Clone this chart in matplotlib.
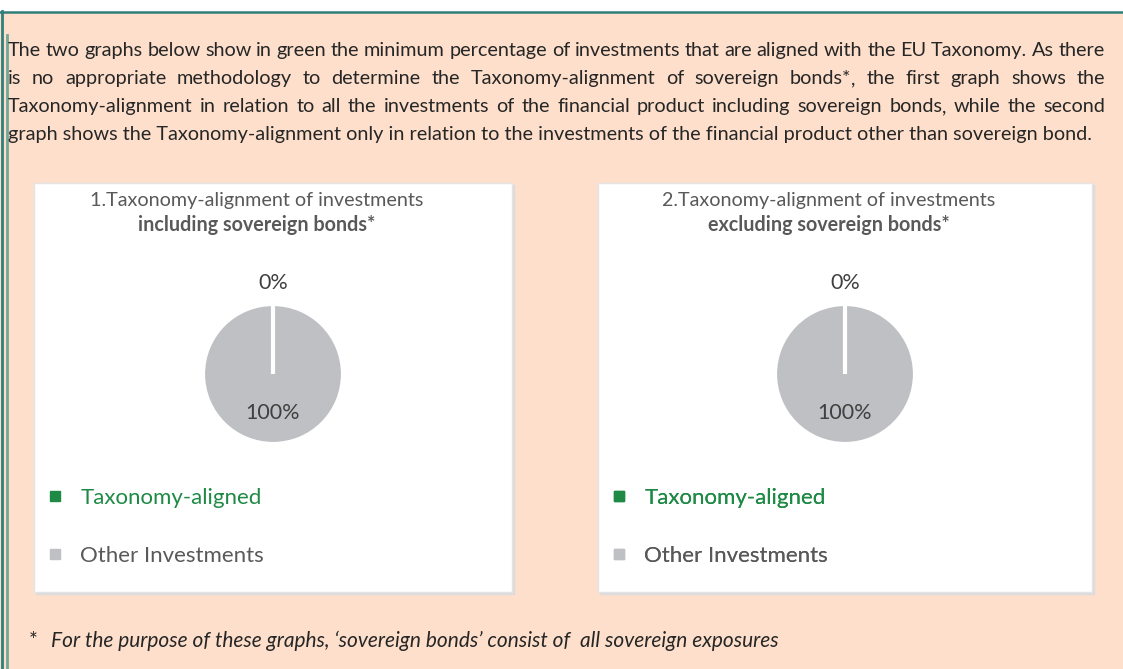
import numpy as np
import matplotlib.pyplot as plt
from matplotlib.patches import Rectangle
from matplotlib.lines import Line2D

plt.rcParams['font.family'] = 'Lato'

# chart data
categories = ['Taxonomy-aligned', 'Other Investments']
incl_values = [0, 100]
excl_values = [0, 100]
panel_titles = ['1.Taxonomy-alignment of investments', '2.Taxonomy-alignment of investments']
panel_subtitles = ['including sovereign bonds*', 'excluding sovereign bonds*']

intro_lines = [
    'The two graphs below show in green the minimum percentage of investments that are aligned with the EU Taxonomy. As there',
    'is no appropriate methodology to determine the Taxonomy-alignment of sovereign bonds*, the first graph shows the',
    'Taxonomy-alignment in relation to all the investments of the financial product including sovereign bonds, while the second',
    'graph shows the Taxonomy-alignment only in relation to the investments of the financial product other than sovereign bond.',
]
footnote = ('For the purpose of these graphs, \u2018sovereign bonds\u2019 consist of  '
            'all sovereign exposures')

GREEN = '#1e8a45'
GREY = '#bfc0c4'
PEACH = '#fddfcb'
TEAL = '#2f7f7c'
TEXT = '#262626'

W, H = 1123, 669
fig = plt.figure(figsize=(W / 100, H / 100), dpi=100)
canvas = fig.add_axes([0, 0, 1, 1])
canvas.set_xlim(0, W)
canvas.set_ylim(H, 0)
canvas.axis('off')

# page background and frame lines
canvas.add_patch(Rectangle((0, 0), W, H, color='white', zorder=0))
canvas.add_patch(Rectangle((0, 11.5), W, H, color=PEACH, zorder=0))
canvas.plot([0, W], [11.5, 11.5], color=TEAL, lw=1.8, zorder=1)
canvas.plot([1.5, 1.5], [11, H], color=TEAL, lw=2, zorder=1)
canvas.plot([6.5, 6.5], [35, H], color='#6fa79b', lw=2, zorder=1)

renderer = fig.canvas.get_renderer()


def text_width(s, size, **kw):
    t = canvas.text(0, 0, s, fontsize=size, **kw)
    w = t.get_window_extent(renderer).width
    t.remove()
    return w


def draw_word(x, y, word, size):
    # a trailing comma goes in its own text, otherwise the baseline of
    # words like "bonds," ends up a few pixels low
    if word.endswith(','):
        core = word[:-1]
        canvas.text(x, y, core, fontsize=size, color=TEXT, va='baseline')
        canvas.text(x + text_width(core, size), y, ',', fontsize=size, color=TEXT, va='baseline')
    else:
        canvas.text(x, y, word, fontsize=size, color=TEXT, va='baseline')


# justified intro paragraph
left, right = 8, 1105
size = 12 * (1080 / text_width(intro_lines[-1], 12))
for i, line in enumerate(intro_lines):
    y = 56 + 28 * i
    if i == len(intro_lines) - 1:
        canvas.text(left, y, line, fontsize=size, color=TEXT, va='baseline')
        continue
    words = line.split()
    widths = [text_width(w, size) for w in words]
    gap = (right - left - sum(widths)) / (len(words) - 1)
    x = left
    for w, wd in zip(words, widths):
        draw_word(x, y, w, size)
        x += wd + gap

# panels
panels = [(34, 512, 273, incl_values), (598, 1092, 845, excl_values)]
for (x0, x1, cx, values), title, sub in zip(panels, panel_titles, panel_subtitles):
    canvas.add_patch(Rectangle((x0 + 2, 185), x1 - x0, 409, color='#dcdcdc', zorder=2))
    canvas.add_patch(Rectangle((x0, 183), x1 - x0, 409, facecolor='white',
                               edgecolor='#e4e4e4', lw=1, zorder=3))
    tx = (x0 + x1) / 2 - 16
    canvas.text(tx, 206, title, fontsize=14.2, color='#595959', ha='center', va='baseline', zorder=4)
    canvas.text(tx, 231, sub, fontsize=14.2, color='#595959', ha='center', va='baseline',
                fontweight='bold', zorder=4)

    cy, r = 374, 70
    ax = fig.add_axes([(cx - r) / W, 1 - (cy + r) / H, 2 * r / W, 2 * r / H])
    wedges, _ = ax.pie(values, colors=[GREEN, GREY], startangle=90, counterclock=False,
                       wedgeprops=dict(edgecolor='white', linewidth=3))
    ax.set_xlim(-1, 1)
    ax.set_ylim(-1, 1)
    total = sum(values)
    for w, v in zip(wedges, values):
        # empty slices collapse to a white spoke, keep it above the full slice
        if v == 0:
            w.set_zorder(3)
        ang = np.deg2rad((w.theta1 + w.theta2) / 2)
        d = 1.3 if v == 0 else 0.55
        ax.text(d * np.cos(ang), d * np.sin(ang), f'{v / total * 100:.0f}%',
                ha='center', va='center', fontsize=15.5, color='#404040')

    handles = [Line2D([], [], marker='s', color=c, linestyle='None', markersize=6.5)
               for c in [GREEN, GREY]]
    leg = canvas.legend(handles, categories, loc='upper left',
                        bbox_to_anchor=(x0 + 14, 488), bbox_transform=canvas.transData,
                        frameon=False, fontsize=16, handlelength=0.6, handletextpad=0.85,
                        labelspacing=1.7, borderpad=0, borderaxespad=0,
                        labelcolor=[GREEN, '#595959'])
    leg.set_zorder(5)
    canvas.add_artist(leg)

# footnote
canvas.text(29, 647, '*', fontsize=15, color=TEXT, va='baseline')
canvas.text(51, 647, footnote, fontsize=15.0, color=TEXT, va='baseline', style='italic')

fig.savefig('out.png', dpi=100)
